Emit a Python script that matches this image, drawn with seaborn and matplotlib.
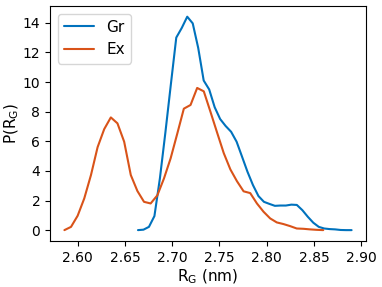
import numpy as np
import pandas as pd
import matplotlib
matplotlib.use("Agg")
import matplotlib.pyplot as plt
import seaborn as sns

# bin centres (nm) and histogram heights
rg_gr = [2.6638, 2.6696, 2.6754, 2.6812, 2.6870, 2.6928, 2.6985, 2.7043,
         2.7101, 2.7159, 2.7217, 2.7275, 2.7333, 2.7391, 2.7449, 2.7507,
         2.7565, 2.7623, 2.7681, 2.7739, 2.7796, 2.7854, 2.7912, 2.7970,
         2.8028, 2.8086, 2.8144, 2.8202, 2.8260, 2.8318, 2.8376, 2.8434,
         2.8492, 2.8550, 2.8607, 2.8665, 2.8723, 2.8781, 2.8839, 2.8897]
p_gr = [0.0, 0.03, 0.22, 0.95, 3.5, 6.6, 9.8, 13.0,
        13.65, 14.41, 13.96, 12.3, 10.1, 9.5, 8.3, 7.5,
        7.03, 6.64, 5.97, 4.95, 3.94, 3.04, 2.30, 1.91,
        1.77, 1.64, 1.66, 1.66, 1.72, 1.70, 1.35, 0.9,
        0.5, 0.22, 0.11, 0.07, 0.05, 0.01, 0.0, 0.0]

rg_ex = [2.5860, 2.5930, 2.6000, 2.6070, 2.6141, 2.6211, 2.6281, 2.6351,
         2.6421, 2.6492, 2.6562, 2.6632, 2.6702, 2.6772, 2.6843, 2.6913,
         2.6983, 2.7053, 2.7123, 2.7194, 2.7264, 2.7334, 2.7404, 2.7474,
         2.7545, 2.7615, 2.7685, 2.7755, 2.7825, 2.7896, 2.7966, 2.8036,
         2.8106, 2.8176, 2.8247, 2.8317, 2.8387, 2.8457, 2.8527, 2.8597]
p_ex = [0.0, 0.22, 0.97, 2.14, 3.72, 5.6, 6.82, 7.61,
        7.21, 5.97, 3.72, 2.64, 1.91, 1.80, 2.35, 3.49,
        4.84, 6.5, 8.2, 8.45, 9.6, 9.37, 8.0, 6.6,
        5.2, 4.1, 3.3, 2.62, 2.5, 1.8, 1.24, 0.79,
        0.52, 0.41, 0.27, 0.11, 0.09, 0.05, 0.02, 0.0]

x_ticks = [2.60, 2.65, 2.70, 2.75, 2.80, 2.85, 2.90]
y_ticks = [0, 2, 4, 6, 8, 10, 12, 14]

sns.set_style("ticks")
plt.rcParams['axes.edgecolor'] = 'black'
plt.rcParams['xtick.color'] = 'black'
plt.rcParams['ytick.color'] = 'black'
plt.rcParams['text.color'] = 'black'
plt.rcParams['axes.labelcolor'] = 'black'
plt.rcParams['font.family'] = ['DejaVu Sans']

df_gr = pd.DataFrame({'rg': rg_gr, 'p': p_gr})
df_ex = pd.DataFrame({'rg': rg_ex, 'p': p_ex})

fig, ax = plt.subplots(figsize=(3.82, 2.87), dpi=100)
fig.subplots_adjust(left=0.131, right=0.958, top=0.979, bottom=0.161)

sns.lineplot(data=df_gr, x='rg', y='p', color='#0072BD', linewidth=1.5,
             label='Gr', sort=False, errorbar=None, ax=ax)
sns.lineplot(data=df_ex, x='rg', y='p', color='#D95319', linewidth=1.5,
             label='Ex', sort=False, errorbar=None, ax=ax)

ax.set_xticks(x_ticks)
ax.set_xticklabels([f"{t:.2f}" for t in x_ticks])
ax.set_yticks(y_ticks)
ax.tick_params(labelsize=10, length=3.5, width=0.8)
for s in ax.spines.values():
    s.set_linewidth(0.8)
ax.set_xlabel('R$_\\mathrm{G}$ (nm)', fontsize=11, labelpad=2)
ax.set_ylabel('P(R$_\\mathrm{G}$)', fontsize=11, labelpad=1)
ax.legend(loc='upper left', fontsize=11, frameon=True)

fig.savefig('out.png', dpi=100)
